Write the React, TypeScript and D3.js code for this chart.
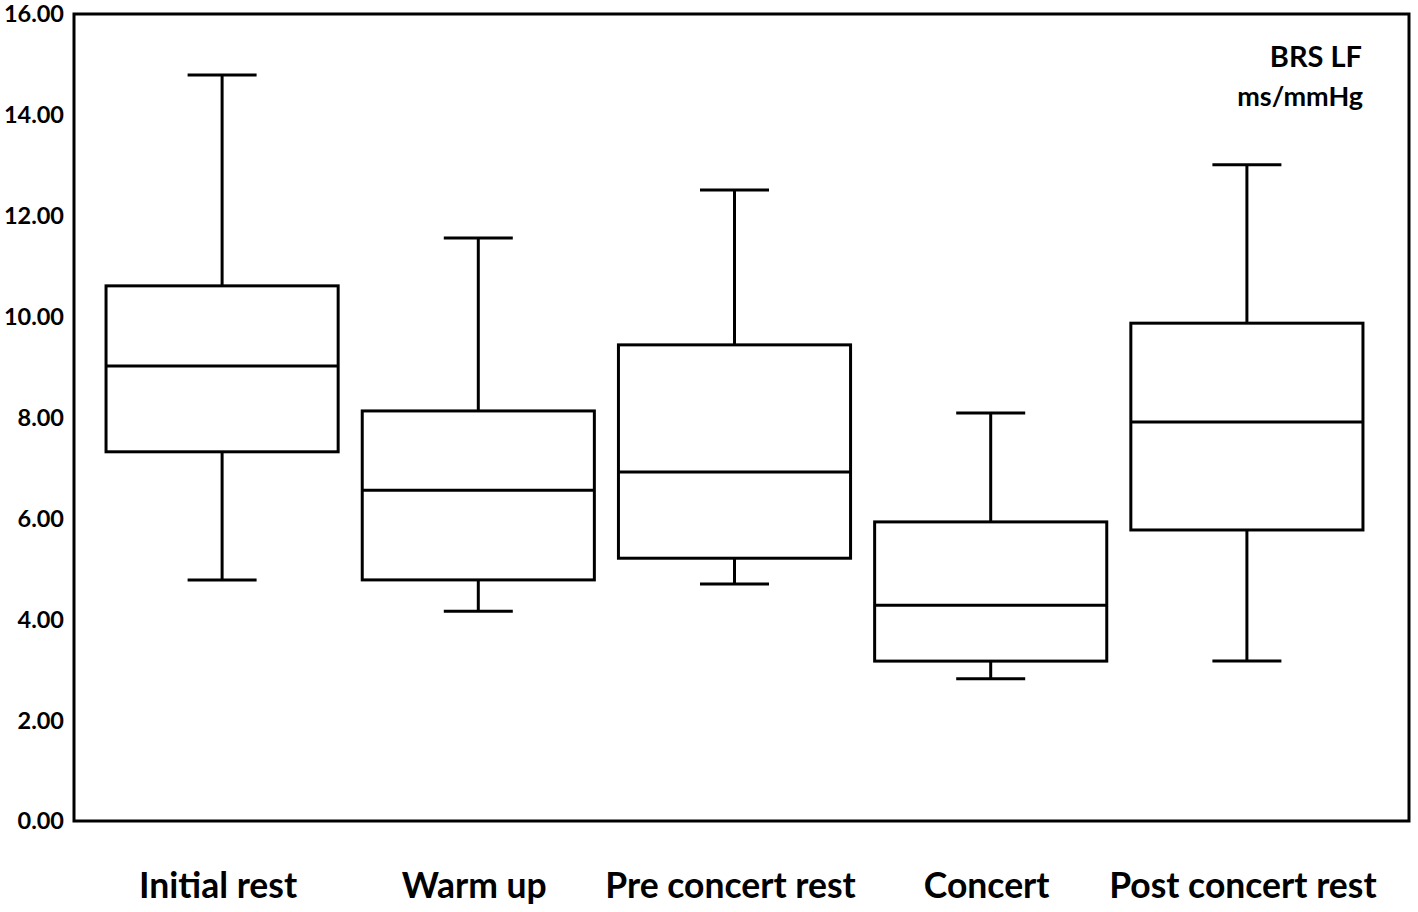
import * as d3 from "d3";
import { useEffect, useRef } from "react";

// phases of the session
const phases = ["Initial rest", "Warm up", "Pre concert rest", "Concert", "Post concert rest"];
// box plot stats per phase (ms/mmHg)
const whiskerLow = [4.78, 4.16, 4.7, 2.82, 3.17];
const q1 = [7.32, 4.78, 5.21, 3.17, 5.77];
const median = [9.02, 6.56, 6.92, 4.28, 7.91];
const q3 = [10.61, 8.13, 9.44, 5.93, 9.87];
const whiskerHigh = [14.79, 11.56, 12.51, 8.09, 13.01];
const yTicks = [0, 2, 4, 6, 8, 10, 12, 14, 16];

const width = 1418;
const height = 912;

export default function App() {
    let ref = useRef<SVGSVGElement | null>(null);

    useEffect(() => {
        const svg = d3.select(ref.current);
        svg.selectAll("*").remove();

        const frame = { left: 74, right: 1409, top: 14, bottom: 821 };
        const font = "Lato, 'Open Sans', sans-serif";

        const YScale = d3.scaleLinear([0, 16], [frame.bottom, frame.top]);
        const XScale = d3
            .scaleBand(phases, [94, 1375])
            .paddingInner(0.094)
            .paddingOuter(0.047);
        const boxW = XScale.bandwidth();
        const capW = 69;

        // frame
        svg.append("rect")
            .attr("x", frame.left)
            .attr("y", frame.top)
            .attr("width", frame.right - frame.left)
            .attr("height", frame.bottom - frame.top)
            .attr("fill", "none")
            .attr("stroke", "#000")
            .attr("stroke-width", 3);

        // y tick labels
        svg.append("g")
            .selectAll("text")
            .data(yTicks)
            .join("text")
            .attr("x", 64)
            .attr("y", (d) => YScale(d))
            .attr("dy", "0.36em")
            .attr("text-anchor", "end")
            .attr("font-family", font)
            .attr("font-weight", "bold")
            .attr("font-size", 23.5)
            .text((d) => d.toFixed(2));

        const g = svg.append("g")
            .selectAll("g")
            .data(phases)
            .join("g")
            .attr("fill", "none")
            .attr("stroke", "#000")
            .attr("stroke-width", 3);

        const cx = (d: string) => (XScale(d) ?? 0) + boxW / 2;

        // whiskers
        g.append("line")
            .attr("x1", cx)
            .attr("x2", cx)
            .attr("y1", (d, i) => YScale(whiskerHigh[i]))
            .attr("y2", (d, i) => YScale(q3[i]));
        g.append("line")
            .attr("x1", cx)
            .attr("x2", cx)
            .attr("y1", (d, i) => YScale(q1[i]))
            .attr("y2", (d, i) => YScale(whiskerLow[i]));
        // caps
        g.append("line")
            .attr("x1", (d) => cx(d) - capW / 2)
            .attr("x2", (d) => cx(d) + capW / 2)
            .attr("y1", (d, i) => YScale(whiskerHigh[i]))
            .attr("y2", (d, i) => YScale(whiskerHigh[i]));
        g.append("line")
            .attr("x1", (d) => cx(d) - capW / 2)
            .attr("x2", (d) => cx(d) + capW / 2)
            .attr("y1", (d, i) => YScale(whiskerLow[i]))
            .attr("y2", (d, i) => YScale(whiskerLow[i]));
        // boxes
        g.append("rect")
            .attr("x", (d) => XScale(d) ?? 0)
            .attr("y", (d, i) => YScale(q3[i]))
            .attr("width", boxW)
            .attr("height", (d, i) => YScale(q1[i]) - YScale(q3[i]))
            .attr("fill", "#fff");
        // medians
        g.append("line")
            .attr("x1", (d) => XScale(d) ?? 0)
            .attr("x2", (d) => (XScale(d) ?? 0) + boxW)
            .attr("y1", (d, i) => YScale(median[i]))
            .attr("y2", (d, i) => YScale(median[i]));

        // category labels
        svg.append("g")
            .selectAll("text")
            .data(phases)
            .join("text")
            .attr("x", (d) => cx(d) - 4)
            .attr("y", 898)
            .attr("text-anchor", "middle")
            .attr("font-family", font)
            .attr("font-weight", "bold")
            .attr("font-size", 35.5)
            .text((d) => d);

        // measure label
        svg.append("text")
            .attr("x", 1362)
            .attr("y", 67)
            .attr("text-anchor", "end")
            .attr("font-family", font)
            .attr("font-weight", "bold")
            .attr("font-size", 29)
            .text("BRS LF");
        svg.append("text")
            .attr("x", 1363)
            .attr("y", 106)
            .attr("text-anchor", "end")
            .attr("font-family", font)
            .attr("font-weight", "bold")
            .attr("font-size", 27)
            .text("ms/mmHg");
    }, []);

    return (
        <svg
            ref={ref}
            width={width}
            height={height}
            style={{ position: "absolute", left: 0, top: 0, background: "#fff" }}
        />
    );
}
